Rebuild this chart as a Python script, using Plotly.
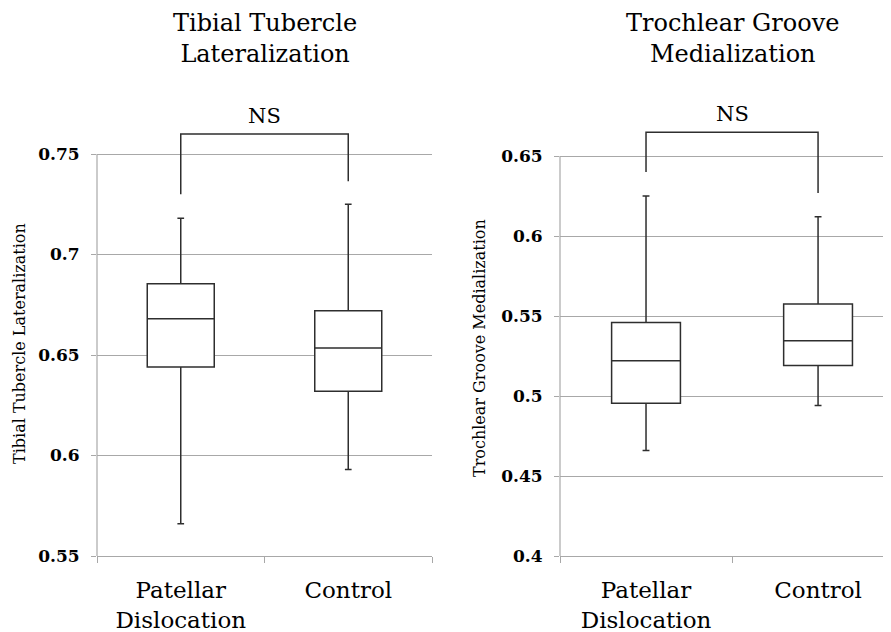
import plotly.graph_objects as go
from plotly.subplots import make_subplots

categories = ["Patellar<br>Dislocation", "Control"]

# Tibial Tubercle Lateralization
tt_lower = [0.566, 0.593]
tt_q1 = [0.644, 0.632]
tt_median = [0.668, 0.6535]
tt_q3 = [0.6855, 0.672]
tt_upper = [0.718, 0.725]
tt_ticks = [0.55, 0.6, 0.65, 0.7, 0.75]
tt_ticktext = ["0.55", "0.6", "0.65", "0.7", "0.75"]
tt_bracket_top = 0.760
tt_bracket_legs = [0.730, 0.7365]

# Trochlear Groove Medialization
tg_lower = [0.466, 0.494]
tg_q1 = [0.4955, 0.519]
tg_median = [0.522, 0.5345]
tg_q3 = [0.546, 0.5575]
tg_upper = [0.625, 0.612]
tg_ticks = [0.4, 0.45, 0.5, 0.55, 0.6, 0.65]
tg_ticktext = ["0.4", "0.45", "0.5", "0.55", "0.6", "0.65"]
tg_bracket_top = 0.6648
tg_bracket_legs = [0.640, 0.6268]

FONT = "DejaVu Serif"
BOX_COLOR = "#2e2e2e"
GRID = "#a8a8a8"

fig = make_subplots(rows=1, cols=2, horizontal_spacing=0.05)

def add_box(col, lo, q1, med, q3, hi):
    fig.add_trace(go.Box(
        x=categories, lowerfence=lo, q1=q1, median=med, q3=q3, upperfence=hi,
        width=0.4, whiskerwidth=0.1,
        fillcolor="white", line=dict(color=BOX_COLOR, width=1.5),
        boxpoints=False, showlegend=False, hoverinfo="skip",
    ), row=1, col=col)

add_box(1, tt_lower, tt_q1, tt_median, tt_q3, tt_upper)
add_box(2, tg_lower, tg_q1, tg_median, tg_q3, tg_upper)

OFF = 8  # page body margin
W, H = 891 - OFF, 632 - OFF
ml, mt, mb = 97 - OFF, 130 - OFF, 76
plot_w = W - ml
plot_h = H - mt - mb
left_dom = [0, (432 - 97) / plot_w]
right_dom = [(560 - 97) / plot_w, 1]

def py(page_y):
    # page pixel y -> paper y
    return (H - mb - (page_y - OFF)) / plot_h

def px(page_x):
    return (page_x - OFF - ml) / plot_w

xaxis_common = dict(
    type="category", showgrid=False, showline=True, linecolor=GRID, linewidth=1,
    ticks="outside", tickson="boundaries", ticklen=6, tickcolor=GRID,
    tickfont=dict(family=FONT, size=23, color="black"),
    ticklabelstandoff=13, zeroline=False,
)
yaxis_common = dict(
    showgrid=True, gridcolor=GRID, gridwidth=1, showline=False, zeroline=False,
    ticks="outside", ticklen=5, tickcolor=GRID,
    tickfont=dict(family=FONT, size=17, color="black", weight="bold"),
    ticklabelstandoff=8,
)

fig.update_layout(
    width=W, height=H,
    margin=dict(l=ml, r=0, t=mt, b=mb),
    paper_bgcolor="white", plot_bgcolor="white",
    xaxis=dict(xaxis_common, domain=left_dom, range=[-0.5, 1.5]),
    xaxis2=dict(xaxis_common, domain=right_dom, range=[-0.5, 1.424]),
    yaxis=dict(yaxis_common, range=[0.55, 0.55 + plot_h / 2010], tickvals=tt_ticks, ticktext=tt_ticktext),
    yaxis2=dict(yaxis_common, range=[0.4, 0.4 + plot_h / 1600], tickvals=tg_ticks, ticktext=tg_ticktext),
)

# y-axis lines (only across the tick range)
for xr, yr, ticks in [("x domain", "y", tt_ticks), ("x2 domain", "y2", tg_ticks)]:
    fig.add_shape(type="line", xref=xr, yref=yr, x0=0, x1=0, y0=ticks[0], y1=ticks[-1],
                  line=dict(color=GRID, width=1.2))

# significance brackets
for xr, yr, top, legs in [("x", "y", tt_bracket_top, tt_bracket_legs),
                          ("x2", "y2", tg_bracket_top, tg_bracket_legs)]:
    fig.add_shape(type="path", xref=xr, yref=yr,
                  path=f"M 0 {legs[0]} L 0 {top} L 1 {top} L 1 {legs[1]}",
                  line=dict(color=BOX_COLOR, width=1.5))
    fig.add_annotation(x=0.5, y=top, xref=xr, yref=yr, text="NS", showarrow=False,
                       yanchor="bottom", yshift=4,
                       font=dict(family=FONT, size=21, color="black"))

# panel titles
for xr, txt in [("x", "Tibial Tubercle<br>Lateralization"), ("x2", "Trochlear Groove<br>Medialization")]:
    fig.add_annotation(x=0.5, y=py(38), xref=xr, yref="paper", text=txt,
                       showarrow=False, yanchor="middle",
                       font=dict(family=FONT, size=24, color="black"))

# y-axis titles
fig.add_annotation(x=px(19), y=py(344), xref="paper", yref="paper",
                   text="Tibial Tubercle Lateralization", textangle=-90, showarrow=False,
                   xanchor="center", yanchor="middle",
                   font=dict(family=FONT, size=16, color="black"))
fig.add_annotation(x=px(479), y=py(348), xref="paper", yref="paper",
                   text="Trochlear Groove Medialization", textangle=-90, showarrow=False,
                   xanchor="center", yanchor="middle",
                   font=dict(family=FONT, size=16, color="black"))

fig.write_html("out.html")
